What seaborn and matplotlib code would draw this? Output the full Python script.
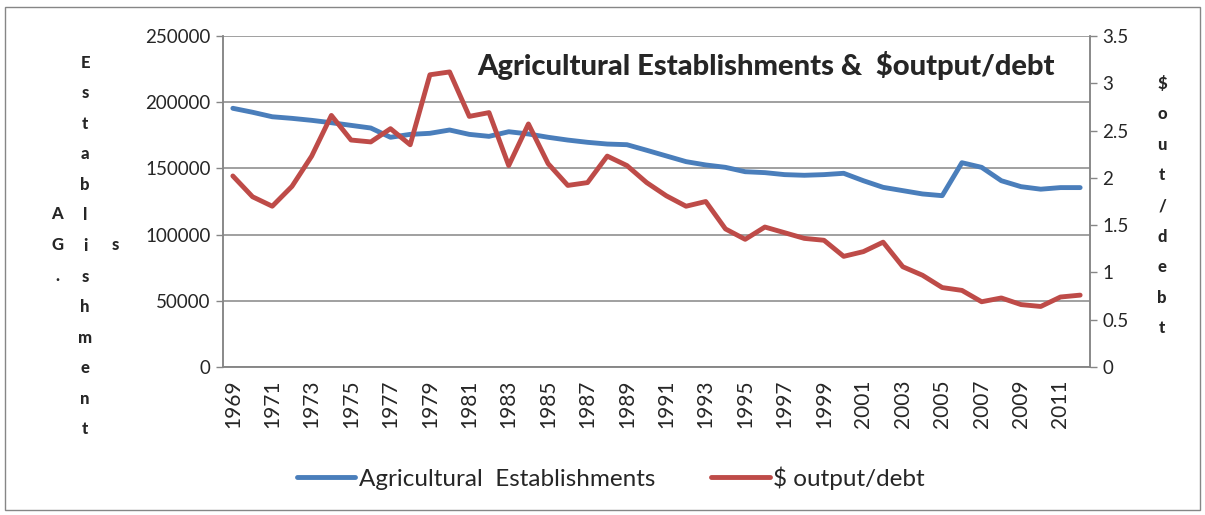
import matplotlib
matplotlib.use("Agg")
import matplotlib.pyplot as plt
import seaborn as sns
import numpy as np
import pandas as pd
from matplotlib.patches import Rectangle
from matplotlib.ticker import FixedLocator

years = list(range(1969, 2013))
establishments = [195400, 192400, 189000, 187800, 186300, 184500, 182500, 180500, 173500, 175700,
                  176500, 179000, 175700, 174200, 177700, 176000, 173500, 171400, 169700, 168400,
                  167900, 163700, 159400, 155100, 152600, 150800, 147500, 146800, 145300, 144800,
                  145300, 146300, 140700, 135700, 133200, 130700, 129400, 154300, 150800, 140700,
                  136200, 134300, 135500, 135500]
output_debt = [2.02, 1.80, 1.70, 1.91, 2.23, 2.66, 2.40, 2.38, 2.52, 2.35,
               3.09, 3.12, 2.65, 2.69, 2.13, 2.57, 2.15, 1.92, 1.95, 2.23,
               2.13, 1.95, 1.81, 1.70, 1.75, 1.46, 1.35, 1.48, 1.42, 1.36,
               1.34, 1.17, 1.22, 1.32, 1.06, 0.97, 0.84, 0.81, 0.69, 0.73,
               0.66, 0.64, 0.74, 0.76]
left_ticks = [0, 50000, 100000, 150000, 200000, 250000]
right_ticks = [0, 0.5, 1, 1.5, 2, 2.5, 3, 3.5]
right_tick_labels = ["0", "0.5", "1", "1.5", "2", "2.5", "3", "3.5"]

sns.set_style("white")
plt.rcParams['font.family'] = ['Lato', 'DejaVu Sans']
plt.rcParams['text.parse_math'] = False

BLUE = "#4A7EBB"
RED = "#BE4B48"
GRID = "#868686"

df = pd.DataFrame({"idx": np.arange(len(years)), "year": years,
                   "est": establishments, "od": output_debt})

fig = plt.figure(figsize=(12.05, 5.15), dpi=100)
ax = fig.add_axes([223/1205, 1-367/515, (1090-223)/1205, (367-36)/515])
ax2 = ax.twinx()

sns.lineplot(data=df, x="idx", y="est", ax=ax, color=BLUE, lw=3.5, legend=False,
             label="Agricultural  Establishments")
sns.lineplot(data=df, x="idx", y="od", ax=ax2, color=RED, lw=3.5, legend=False,
             label="$ output/debt")

ax.set_xlim(-0.5, len(years) - 0.5)
ax.set_ylim(0, 250000)
ax2.set_ylim(0, 3.5)
ax.set_yticks(left_ticks)
ax.set_yticklabels([str(v) for v in left_ticks])
ax2.set_yticks(right_ticks)
ax2.set_yticklabels(right_tick_labels)

ax.grid(axis="y", color=GRID, lw=1.1)
ax.set_axisbelow(True)
ax.set_xlabel("")
ax.set_ylabel("")
ax2.set_ylabel("")

# x ticks: boundaries as minor ticks, labels every other year
ax.xaxis.set_minor_locator(FixedLocator(np.arange(-0.5, len(years), 1.0)))
ax.set_xticks(np.arange(0, len(years), 2))
ax.set_xticklabels([str(y) for y in years[::2]], rotation=90, fontsize=15)
ax.tick_params(axis="x", which="major", length=0, pad=9)
ax.tick_params(axis="x", which="minor", length=6, width=1, color=GRID, direction="out")
ax.tick_params(axis="y", length=5, width=1, color=GRID, direction="out", labelsize=13.5, pad=4)
ax2.tick_params(axis="y", length=5, width=1, color=GRID, direction="out", labelsize=13.5, pad=4)

for a in (ax, ax2):
    a.spines["top"].set_visible(False)
    for s in ("left", "right", "bottom"):
        a.spines[s].set_color(GRID)
        a.spines[s].set_linewidth(1.1)

# title inside plot
ax.text((766-223)/867, (367-65)/331, "Agricultural Establishments &  $output/debt",
        transform=ax.transAxes, ha="center", va="center", fontsize=21, fontweight=900)

# stacked vertical axis titles
lab_kw = dict(ha="center", va="center", fontsize=12, fontweight=900, linespacing=2.12)
fig.text(57/1205, 1-245/515, "A\nG\n.", **lab_kw)
fig.text(85/1205, 1-246/515, "E\ns\nt\na\nb\nl\ni\ns\nh\nm\ne\nn\nt", **lab_kw)
fig.text(115/1205, 1-245/515, "s", **lab_kw)
fig.text(1162/1205, 1-206/515, "$\no\nu\nt\n/\nd\ne\nb\nt", **lab_kw)

# legend
h1, l1 = ax.get_legend_handles_labels()
h2, l2 = ax2.get_legend_handles_labels()
fig.legend(h1 + h2, l1 + l2, loc="center", bbox_to_anchor=(611/1205, 1-478/515), ncol=2,
           frameon=False, fontsize=17.5, handlelength=2.4, columnspacing=2.3, handletextpad=0.15)

fig.patches.append(Rectangle((5/1205, 5/515), 1195/1205, 503/515, transform=fig.transFigure,
                             fill=False, edgecolor=GRID, lw=1.0))

fig.savefig("out.png", dpi=100)
